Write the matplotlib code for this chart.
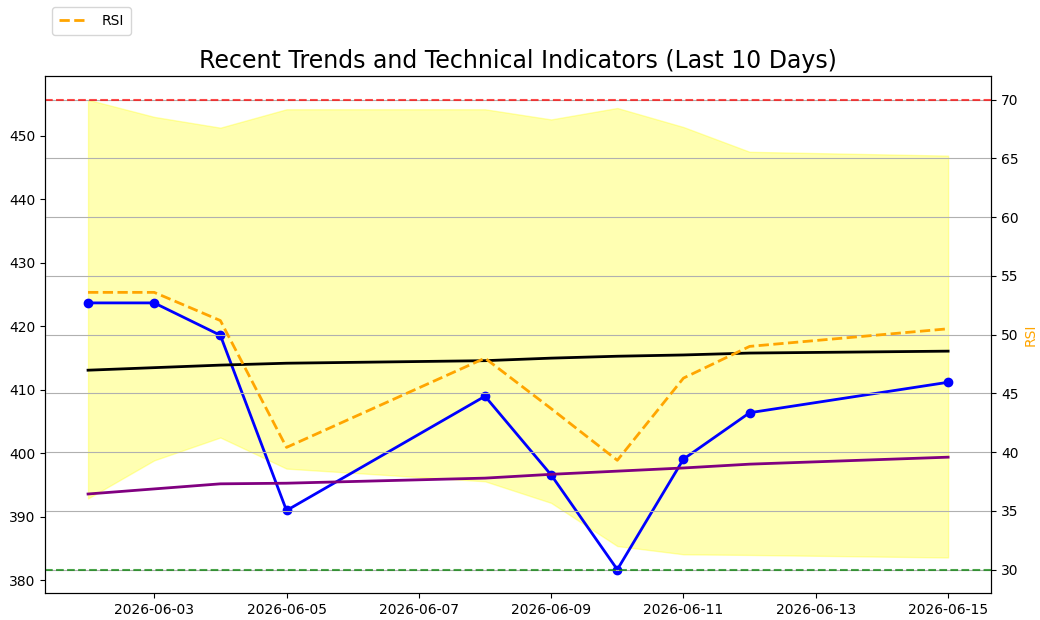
import matplotlib
matplotlib.use("Agg")
import matplotlib.pyplot as plt
import pandas as pd

# Last 10 trading days
dates = pd.to_datetime([
    "2026-06-02", "2026-06-03", "2026-06-04", "2026-06-05", "2026-06-08",
    "2026-06-09", "2026-06-10", "2026-06-11", "2026-06-12", "2026-06-15",
])

close = [423.7, 423.7, 418.6, 391.0, 409.0, 396.6, 381.7, 399.1, 406.4, 411.2]
sma_short = [413.1, 413.5, 413.9, 414.2, 414.6, 415.0, 415.3, 415.5, 415.8, 416.1]
sma_long = [393.6, 394.4, 395.2, 395.3, 396.1, 396.7, 397.2, 397.7, 398.3, 399.4]
bb_upper = [455.7, 453.0, 451.3, 454.2, 454.2, 452.6, 454.4, 451.4, 447.5, 446.9]
bb_lower = [392.9, 398.9, 402.5, 397.6, 395.6, 392.2, 385.4, 384.1, 384.0, 383.6]
rsi = [53.6, 53.6, 51.2, 40.4, 48.0, 43.7, 39.3, 46.3, 49.0, 50.5]

fig, ax1 = plt.subplots(figsize=(10.4, 6.2), dpi=100)

# Price panel
ax1.fill_between(dates, bb_lower, bb_upper, color="yellow", alpha=0.3)
ax1.plot(dates, close, color="blue", marker="o", linewidth=2)
ax1.plot(dates, sma_short, color="black", linewidth=2)
ax1.plot(dates, sma_long, color="purple", linewidth=2)

# RSI on the right axis
ax2 = ax1.twinx()
ax2.plot(dates, rsi, color="orange", linestyle="--", linewidth=2, label="RSI")
ax2.axhline(70, color="red", linestyle="--", alpha=0.7)
ax2.axhline(30, color="green", linestyle="--", alpha=0.7)
ax2.set_ylabel("RSI", color="orange")
ax2.grid(True)
ax2.legend(loc="upper left", bbox_to_anchor=(0, 1.147), handletextpad=1.05,
           borderpad=0.5)

ax1.set_title("Recent Trends and Technical Indicators (Last 10 Days)", fontsize=17)

plt.subplots_adjust(left=0.0433, right=0.953, top=0.877, bottom=0.0435)
plt.savefig("out.png")
